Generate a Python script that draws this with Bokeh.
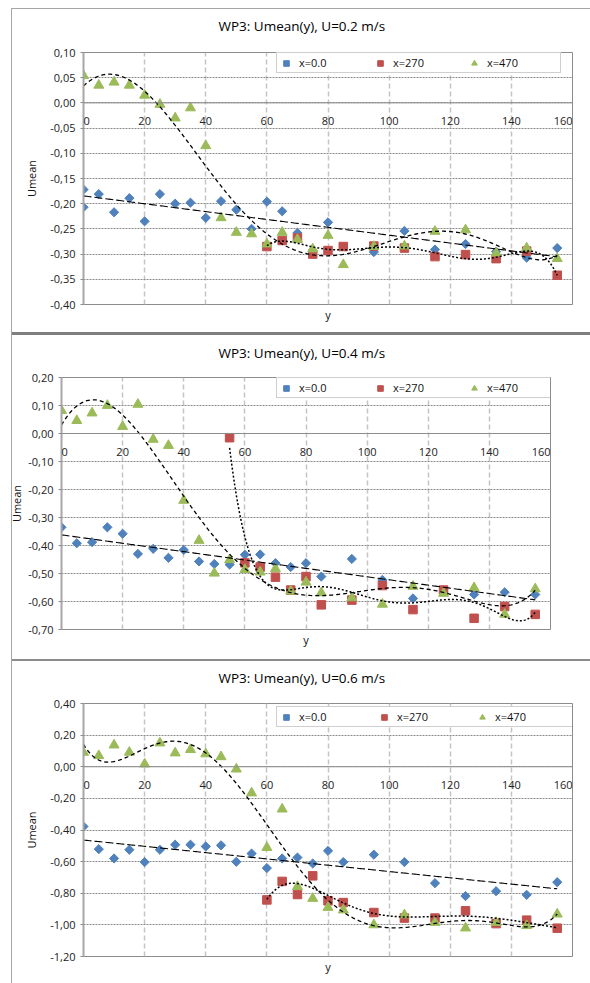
import numpy as np
from bokeh.plotting import figure
from bokeh.models import Range1d, FixedTicker, Legend, LegendItem, Title, Label, Span
from bokeh.embed import file_html
from bokeh.resources import INLINE

# ---------------- data ----------------
X_TICKS = [0, 20, 40, 60, 80, 100, 120, 140, 160]
X_TICK_LABELS = ["0", "20", "40", "60", "80", "100", "120", "140", "160"]
SERIES_NAMES = ["x=0.0", "x=270", "x=470"]

# Panel 1: U=0.2 m/s
P1_TITLE = "WP3: Umean(y), U=0.2 m/s"
P1_Y_TICKS = [0.10, 0.05, 0.00, -0.05, -0.10, -0.15, -0.20, -0.25, -0.30, -0.35, -0.40]
P1_Y_LABELS = ["0,10", "0,05", "0,00", "-0,05", "-0,10", "-0,15", "-0,20", "-0,25", "-0,30", "-0,35", "-0,40"]
P1_BLUE_X = [0, 0, 5, 10, 15, 20, 25, 30, 35, 40, 45, 50, 55, 60, 65, 70, 80, 95, 105, 115, 125, 135, 145, 155]
P1_BLUE_Y = [-0.172, -0.207, -0.181, -0.217, -0.189, -0.235, -0.181, -0.200, -0.198, -0.228, -0.195, -0.212,
             -0.250, -0.196, -0.215, -0.258, -0.237, -0.296, -0.254, -0.291, -0.280, -0.295, -0.307, -0.288]
P1_RED_X = [60, 65, 70, 75, 80, 85, 95, 105, 115, 125, 135, 145, 155]
P1_RED_Y = [-0.285, -0.273, -0.268, -0.300, -0.293, -0.285, -0.284, -0.288, -0.305, -0.301, -0.309, -0.294, -0.342]
P1_GREEN_X = [0, 5, 10, 15, 20, 25, 30, 35, 40, 45, 50, 55, 60, 65, 70, 75, 80, 85, 95, 105, 115, 125, 135, 145, 155]
P1_GREEN_Y = [0.054, 0.035, 0.041, 0.035, 0.015, -0.003, -0.030, -0.010, -0.085, -0.228, -0.257, -0.260, -0.280,
              -0.257, -0.271, -0.290, -0.263, -0.321, -0.285, -0.284, -0.255, -0.252, -0.298, -0.288, -0.309]

# Panel 2: U=0.4 m/s
P2_TITLE = "WP3: Umean(y), U=0.4 m/s"
P2_Y_TICKS = [0.20, 0.10, 0.00, -0.10, -0.20, -0.30, -0.40, -0.50, -0.60, -0.70]
P2_Y_LABELS = ["0,20", "0,10", "0,00", "-0,10", "-0,20", "-0,30", "-0,40", "-0,50", "-0,60", "-0,70"]
P2_BLUE_X = [0, 5, 10, 15, 20, 25, 30, 35, 40, 45, 50, 55, 60, 65, 70, 75, 80, 85, 95, 105, 115, 135, 145, 155]
P2_BLUE_Y = [-0.335, -0.392, -0.388, -0.335, -0.358, -0.430, -0.412, -0.444, -0.416, -0.457, -0.466, -0.468,
             -0.433, -0.432, -0.463, -0.477, -0.463, -0.511, -0.448, -0.523, -0.589, -0.575, -0.567, -0.575]
P2_RED_X = [55, 60, 65, 70, 75, 80, 85, 95, 105, 115, 125, 135, 145, 155]
P2_RED_Y = [-0.015, -0.462, -0.477, -0.513, -0.559, -0.511, -0.612, -0.595, -0.543, -0.629, -0.559, -0.660,
            -0.618, -0.646]
P2_GREEN_X = [0, 5, 10, 15, 20, 25, 30, 35, 40, 45, 50, 55, 60, 65, 70, 75, 80, 85, 95, 105, 115, 125, 135, 145, 155]
P2_GREEN_Y = [0.082, 0.046, 0.073, 0.100, 0.025, 0.104, -0.021, -0.043, -0.239, -0.382, -0.499, -0.451, -0.486,
              -0.495, -0.483, -0.563, -0.531, -0.569, -0.587, -0.610, -0.546, -0.571, -0.551, -0.646, -0.555]

# Panel 3: U=0.6 m/s
P3_TITLE = "WP3: Umean(y), U=0.6 m/s"
P3_Y_TICKS = [0.40, 0.20, 0.00, -0.20, -0.40, -0.60, -0.80, -1.00, -1.20]
P3_Y_LABELS = ["0,40", "0,20", "0,00", "-0,20", "-0,40", "-0,60", "-0,80", "-1,00", "-1,20"]
P3_BLUE_X = [0, 5, 10, 15, 20, 25, 30, 35, 40, 45, 50, 55, 60, 65, 70, 75, 80, 85, 95, 105, 115, 125, 135, 145, 155]
P3_BLUE_Y = [-0.378, -0.521, -0.580, -0.525, -0.603, -0.525, -0.493, -0.493, -0.504, -0.497, -0.601, -0.549,
             -0.641, -0.580, -0.574, -0.612, -0.532, -0.603, -0.556, -0.603, -0.736, -0.818, -0.787, -0.810, -0.730]
P3_RED_X = [60, 65, 70, 75, 80, 85, 95, 105, 115, 125, 135, 145, 155]
P3_RED_Y = [-0.842, -0.725, -0.808, -0.690, -0.848, -0.859, -0.922, -0.957, -0.957, -0.911, -0.992, -0.970, -1.021]
P3_GREEN_X = [0, 5, 10, 15, 20, 25, 30, 35, 40, 45, 50, 55, 60, 65, 70, 75, 80, 85, 95, 105, 115, 125, 135, 145, 155]
P3_GREEN_Y = [0.091, 0.070, 0.137, 0.091, 0.017, 0.150, 0.087, 0.108, 0.081, 0.063, -0.015, -0.166, -0.511,
              -0.268, -0.758, -0.833, -0.890, -0.906, -1.000, -0.937, -0.985, -1.020, -0.985, -1.005, -0.932]

# ---------------- style ----------------
BLUE = "#4F81BD"
RED = "#C0504D"
GREEN = "#9BBB59"
FONT = "Open Sans"
GRAY = "#8c8c8c"


def bar(color, x, y, w, h):
    return f"linear-gradient({color}, {color}) {x} {y} / {w} {h} no-repeat"


def fit(x, y, deg):
    poly = np.polynomial.Polynomial.fit(np.asarray(x, float), np.asarray(y, float), deg)
    xs = np.linspace(min(x), max(x), 300)
    return xs, poly(xs)


def make_panel(title, yticks, ylabels, blue, red, green, *, top, bottom, frame_h, left,
               background, title_dx, label_standoff, legend_dx, legend_dy, label_width):
    right = 590 - left - 489
    p = figure(frame_width=489, frame_height=frame_h, x_range=Range1d(0, 160),
               y_range=Range1d(yticks[-1], yticks[0]), title=None,
               output_backend="svg", toolbar_location=None, x_axis_location=None,
               min_border_left=left, min_border_right=right, min_border_top=top, min_border_bottom=bottom,
               styles={"background": background},
               background_fill_color="white", border_fill_color=None, border_fill_alpha=0)
    p.outline_line_color = GRAY
    p.outline_line_width = 1

    # y axis
    yax = p.yaxis[0]
    yax.ticker = FixedTicker(ticks=yticks)
    yax.major_label_overrides = {t: l for t, l in zip(yticks, ylabels)}
    yax.minor_tick_line_color = None
    yax.major_tick_out = 3
    yax.major_tick_in = 0
    yax.major_tick_line_color = GRAY
    yax.axis_line_color = "#a6a6a6"
    yax.axis_line_width = 2
    yax.major_label_standoff = 5
    yax.major_label_text_font = FONT
    yax.major_label_text_font_size = "11px"
    yax.major_label_text_color = "#222222"
    yax.axis_label = "Umean"
    yax.axis_label_text_font = FONT
    yax.axis_label_text_font_size = "11px"
    yax.axis_label_text_font_style = "normal"
    yax.axis_label_text_color = "#111111"
    yax.axis_label_standoff = label_standoff

    # horizontal axis crossing at y = 0, with its tick labels just below it
    p.add_layout(Span(location=0, dimension="width", line_color=GRAY, line_width=1))
    n = len(X_TICKS)
    for i, (tx, tl) in enumerate(zip(X_TICKS, X_TICK_LABELS)):
        align = "left" if i == 0 else ("right" if i == n - 1 else "center")
        p.add_layout(Label(x=tx, y=0, text=tl, text_align=align, text_baseline="top", y_offset=-14,
                           text_font=FONT, text_font_size="11px", text_color="#222222"))

    # grids
    p.xgrid.ticker = FixedTicker(ticks=X_TICKS[1:-1])
    p.xgrid.grid_line_color = "#c4c4c4"
    p.xgrid.grid_line_width = 1.5
    p.xgrid.grid_line_dash = "5 3"
    p.ygrid.ticker = FixedTicker(ticks=yticks)
    p.ygrid.grid_line_color = "#8a8a8a"
    p.ygrid.grid_line_width = 1
    p.ygrid.grid_line_dash = "2 1"

    # chart title and horizontal-axis title
    p.add_layout(Title(text=title, align="left", offset=title_dx, vertical_align="top",
                       text_font=FONT, text_font_size="13.5px", text_font_style="normal",
                       text_color="#000000", standoff=top - 20), "above")
    p.add_layout(Title(text="y", align="center", text_font=FONT, text_font_size="11px",
                       text_font_style="normal", text_color="#111111", standoff=0), "below")

    # points
    rb = p.scatter(blue[0], blue[1], marker="square", angle=np.pi / 4, size=6.5,
                   fill_color=BLUE, line_color=BLUE)
    rr = p.scatter(red[0], red[1], marker="square", size=8.5, fill_color=RED, line_color=RED)
    rg = p.scatter(green[0], green[1], marker="triangle", size=10, fill_color=GREEN, line_color=GREEN)

    # trend lines
    bx, by = fit(blue[0], blue[1], 1)
    p.line(bx, by, line_color="black", line_width=1.1, line_dash="8 3")
    rx, ry = fit(red[0], red[1], 6)
    p.line(rx, ry, line_color="black", line_width=1.5, line_dash="2 2")
    gx, gy = fit(green[0], green[1], 6)
    p.line(gx, gy, line_color="black", line_width=1.3, line_dash="4 3")

    legend = Legend(items=[LegendItem(label=SERIES_NAMES[0], renderers=[rb]),
                           LegendItem(label=SERIES_NAMES[1], renderers=[rr]),
                           LegendItem(label=SERIES_NAMES[2], renderers=[rg])],
                    orientation="horizontal", location=(legend_dx, frame_h - legend_dy - 18),
                    margin=0, padding=2, spacing=3, glyph_width=14, glyph_height=14,
                    label_height=14, label_width=label_width, label_standoff=6,
                    label_text_font=FONT, label_text_font_size="11px", label_text_color="#111111",
                    border_line_color="#a0a0a0", border_line_width=1,
                    background_fill_color="white", background_fill_alpha=1.0)
    p.add_layout(legend, "center")
    return p


# chart-area borders (outer frame lines and separators between the three charts)
BG1 = ", ".join([bar("#a6a6a6", "11px", "8px", "1px", "100%"),
                 bar("#a6a6a6", "11px", "8px", "100%", "1px"), "#ffffff"])
BG2 = ", ".join([bar("#a6a6a6", "11px", "0px", "1px", "100%"),
                 bar("#7f7f7f", "11px", "3px", "100%", "3px"), "#ffffff"])
BG3 = ", ".join([bar("#a6a6a6", "11px", "0px", "1px", "100%"),
                 bar("#8c8c8c", "11px", "6px", "100%", "2px"), "#ffffff"])

p1 = make_panel(P1_TITLE, P1_Y_TICKS, P1_Y_LABELS,
                (P1_BLUE_X, P1_BLUE_Y), (P1_RED_X, P1_RED_Y), (P1_GREEN_X, P1_GREEN_Y),
                top=52, bottom=25, frame_h=252, left=83, background=BG1,
                title_dx=135, label_standoff=8,
                legend_dx=193, legend_dy=3, label_width=71)
p2 = make_panel(P2_TITLE, P2_Y_TICKS, P2_Y_LABELS,
                (P2_BLUE_X, P2_BLUE_Y), (P2_RED_X, P2_RED_Y), (P2_GREEN_X, P2_GREEN_Y),
                top=48, bottom=24, frame_h=252, left=61, background=BG2,
                title_dx=157, label_standoff=1,
                legend_dx=215, legend_dy=3, label_width=71)
p3 = make_panel(P3_TITLE, P3_Y_TICKS, P3_Y_LABELS,
                (P3_BLUE_X, P3_BLUE_Y), (P3_RED_X, P3_RED_Y), (P3_GREEN_X, P3_GREEN_Y),
                top=50, bottom=27, frame_h=253, left=83, background=BG3,
                title_dx=135, label_standoff=8,
                legend_dx=193, legend_dy=6, label_width=75)

with open("out.html", "w") as f:
    f.write(file_html([p1, p2, p3], INLINE, title="WP3: Umean(y)"))
